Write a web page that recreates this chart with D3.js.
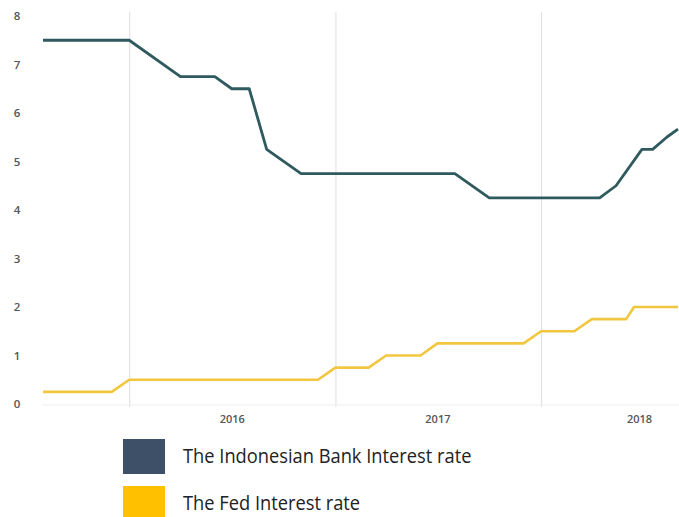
<!DOCTYPE html>
<html>
<head>
<meta charset="utf-8">
<script src="https://cdn.jsdelivr.net/npm/d3@7"></script>
<style>
  body { margin: 0; background: #fff; }
  svg { display: block; }
  .tick text { font-family: "Open Sans", sans-serif; }
</style>
</head>
<body>
<div id="chart"></div>
<script>
// data
var bankDates = ["2015-08-01","2016-01-01","2016-04-01","2016-06-01","2016-07-01","2016-08-01",
                 "2016-09-01","2016-11-01","2017-08-01","2017-10-01","2018-04-15","2018-05-14",
                 "2018-06-29","2018-07-18","2018-08-12","2018-09-01"];
var bankRates = [7.5,7.5,6.75,6.75,6.5,6.5,5.25,4.75,4.75,4.25,4.25,4.5,5.25,5.25,5.5,5.67];

var fedDates = ["2015-08-01","2015-12-01","2016-01-01","2016-12-01","2017-01-01","2017-03-01",
                "2017-04-01","2017-06-01","2017-07-01","2017-12-01","2018-01-01","2018-03-01",
                "2018-04-01","2018-06-01","2018-06-15","2018-09-01"];
var fedRates = [0.25,0.25,0.5,0.5,0.75,0.75,1,1,1.25,1.25,1.5,1.5,1.75,1.75,2,2];

var yearTicks = ["2016","2017","2018"];
var rateTicks = [0,1,2,3,4,5,6,7,8];
var legendNames = ["The Indonesian Bank Interest rate","The Fed Interest rate"];
var legendColors = ["#3e4f68","#ffc000"];

var parse = d3.timeParse("%Y-%m-%d");
var bankData = bankDates.map(function(d,i){ return {date: parse(d), rate: bankRates[i]}; });
var fedData = fedDates.map(function(d,i){ return {date: parse(d), rate: fedRates[i]}; });

var width = 679, height = 517;

var svg = d3.select("#chart").append("svg")
  .attr("width", width)
  .attr("height", height);

var x = d3.scaleTime()
  .domain([parse("2015-08-01"), parse("2018-09-01")])
  .range([43, 678]);

var y = d3.scaleLinear()
  .domain([0, 8])
  .range([404, 16]);

// vertical year gridlines
svg.append("g")
  .attr("transform", "translate(0,407)")
  .call(d3.axisBottom(x)
    .tickValues(yearTicks.map(function(t){ return parse(t + "-01-01"); }))
    .tickSize(-395)
    .tickFormat(""))
  .call(function(g){
    g.select(".domain").remove();
    g.selectAll(".tick line").attr("stroke", "#dedede");
  });

// baseline
svg.append("line")
  .attr("x1", 42).attr("x2", width)
  .attr("y1", y(0) + 1).attr("y2", y(0) + 1)
  .attr("stroke", "#eeeeee");

// year labels, centred in the year
svg.append("g")
  .attr("transform", "translate(0,412)")
  .call(d3.axisBottom(x)
    .tickValues(yearTicks.map(function(t){ return parse(t + "-07-01"); }))
    .tickSize(0)
    .tickFormat(d3.timeFormat("%Y")))
  .call(function(g){
    g.select(".domain").remove();
    g.selectAll(".tick text")
      .attr("fill", "#555")
      .style("font-size", "11px")
      .style("font-weight", "600");
    g.selectAll(".tick:last-of-type text").attr("dx", -4);
  });

// rate labels
svg.append("g")
  .attr("transform", "translate(22,0)")
  .call(d3.axisLeft(y).tickValues(rateTicks).tickSize(0).tickFormat(d3.format("d")))
  .call(function(g){
    g.select(".domain").remove();
    g.selectAll(".tick text")
      .attr("fill", "#555")
      .attr("text-anchor", "middle")
      .attr("x", -5)
      .style("font-size", "11.5px")
      .style("font-weight", "600");
  });

var line = d3.line()
  .x(function(d){ return x(d.date); })
  .y(function(d){ return y(d.rate); });

svg.append("path")
  .datum(fedData)
  .attr("d", line)
  .attr("fill", "none")
  .attr("stroke", "#f3c63f")
  .attr("stroke-width", 2.6)
  .attr("stroke-linejoin", "round");

svg.append("path")
  .datum(bankData)
  .attr("d", line)
  .attr("fill", "none")
  .attr("stroke", "#2f5a5e")
  .attr("stroke-width", 2.8)
  .attr("stroke-linejoin", "round");

// legend
var legend = svg.selectAll(".legend")
  .data(legendNames)
  .enter().append("g")
  .attr("class", "legend")
  .attr("transform", function(d,i){ return "translate(123," + (439 + i*47) + ")"; });

legend.append("rect")
  .attr("width", 42)
  .attr("height", 35)
  .attr("fill", function(d,i){ return legendColors[i]; });

legend.append("text")
  .attr("transform", "translate(60,23.5) scale(1,1.12)")
  .text(function(d){ return d; })
  .attr("fill", "#222")
  .style("font-family", "Open Sans, sans-serif")
  .style("font-size", "18.3px");
</script>
</body>
</html>
